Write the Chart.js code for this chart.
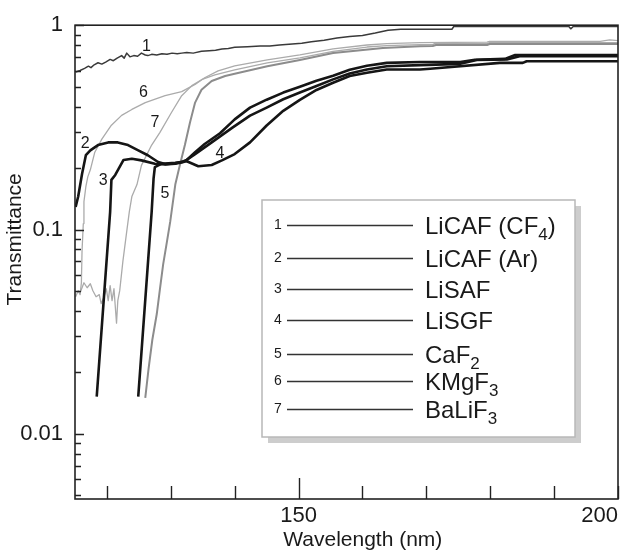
<!DOCTYPE html>
<html>
<head>
<meta charset="utf-8">
<script src="https://cdn.jsdelivr.net/npm/chart.js@4.4.1/dist/chart.umd.min.js"></script>
<style>
    html, body { margin: 0; padding: 0; background: #fff; }
    #chart { display: block; }
</style>
</head>
<body>
<canvas id="chart" width="629" height="560"></canvas>
<script>
// Series, in legend order
const seriesNumbers = ['1', '2', '3', '4', '5', '6', '7'];
const seriesNames = ['LiCAF (CF4)', 'LiCAF (Ar)', 'LiSAF', 'LiSGF', 'CaF2', 'KMgF3', 'BaLiF3'];

// 1 - LiCAF (CF4)
const licafCf4Wl = [115.1, 115.8, 116.5, 117.1, 117.5, 118.0, 118.6, 119.2, 119.8, 120.5, 121.0, 121.6, 122.3, 122.7, 123.1, 123.6, 124.2, 124.8, 125.4, 126.0, 126.4, 127.0, 127.8, 128.6, 129.4, 130.2, 131.0, 131.7, 132.5, 133.5, 134.8, 136.0, 137.0, 138.0, 139.0, 140.0, 142.0, 144.0, 145.5, 147.0, 149.0, 150.5, 152.0, 154.0, 156.0, 158.0, 160.0, 162.0, 164.0, 166.0, 174.0, 174.3, 192.3, 192.6, 193.0, 200.0];
const licafCf4T = [0.59, 0.60, 0.615, 0.63, 0.62, 0.64, 0.655, 0.645, 0.66, 0.68, 0.67, 0.69, 0.71, 0.69, 0.73, 0.70, 0.71, 0.705, 0.73, 0.715, 0.71, 0.72, 0.715, 0.725, 0.72, 0.73, 0.725, 0.73, 0.735, 0.73, 0.745, 0.75, 0.755, 0.765, 0.77, 0.78, 0.785, 0.79, 0.79, 0.80, 0.81, 0.815, 0.83, 0.845, 0.865, 0.88, 0.89, 0.915, 0.945, 0.955, 0.955, 0.985, 0.985, 0.96, 0.985, 0.985];

// 2 - LiCAF (Ar)
const licafArWl = [115.1, 115.5, 116.1, 116.7, 117.4, 118.6, 120.2, 121.7, 123.3, 124.9, 126.4, 128.0, 129.1, 130.7, 131.7, 132.5, 133.8, 135.3, 137.7, 140.0, 142.4, 145.0, 147.6, 150.2, 152.8, 155.4, 158.0, 160.7, 163.8, 169.0, 175.3, 177.6, 182.3, 183.9, 200.0];
const licafArT = [0.129, 0.145, 0.187, 0.231, 0.244, 0.259, 0.267, 0.267, 0.259, 0.244, 0.231, 0.214, 0.209, 0.211, 0.214, 0.219, 0.239, 0.262, 0.296, 0.346, 0.395, 0.432, 0.468, 0.500, 0.535, 0.566, 0.605, 0.633, 0.654, 0.661, 0.661, 0.678, 0.684, 0.715, 0.715];

// 3 - LiSAF
const lisafWl = [118.4, 120.5, 120.7, 121.3, 122.6, 123.9, 125.4, 127.5, 129.1, 130.7, 132.0, 133.8, 136.4, 139.7, 142.4, 145.0, 147.6, 150.2, 152.8, 155.4, 158.0, 160.7, 163.8, 169.0, 175.3, 177.9, 182.6, 184.6, 200.0];
const lisafT = [0.0152, 0.122, 0.175, 0.185, 0.219, 0.222, 0.218, 0.210, 0.208, 0.210, 0.214, 0.234, 0.267, 0.316, 0.361, 0.395, 0.434, 0.468, 0.504, 0.543, 0.580, 0.607, 0.630, 0.638, 0.647, 0.676, 0.680, 0.705, 0.705];

// 4 - LiSGF
const lisgfWl = [124.9, 127.0, 127.3, 127.5, 128.6, 130.7, 132.5, 134.3, 136.4, 138.0, 140.0, 142.4, 145.0, 147.6, 150.2, 152.8, 155.4, 158.0, 160.7, 163.8, 169.0, 170.6, 181.5, 185.1, 185.7, 200.0];
const lisgfT = [0.0152, 0.122, 0.178, 0.202, 0.210, 0.212, 0.216, 0.204, 0.207, 0.218, 0.234, 0.267, 0.323, 0.381, 0.431, 0.482, 0.523, 0.564, 0.585, 0.607, 0.607, 0.612, 0.654, 0.654, 0.666, 0.666];

// 5 - CaF2
const caf2Wl = [126.0, 126.5, 127.1, 127.8, 128.3, 128.8, 129.4, 129.9, 130.7, 131.4, 132.2, 133.0, 133.8, 134.8, 136.4, 138.5, 140.0, 145.1, 150.2, 155.4, 163.2, 169.0, 171.0, 171.5, 179.5, 179.9, 200.0];
const caf2T = [0.0150, 0.0206, 0.0288, 0.0386, 0.0513, 0.0675, 0.0875, 0.109, 0.166, 0.206, 0.259, 0.334, 0.418, 0.483, 0.533, 0.564, 0.578, 0.630, 0.676, 0.731, 0.773, 0.788, 0.791, 0.800, 0.800, 0.809, 0.809];

// 6 - KMgF3
const kmgf3Wl = [115.1, 115.5, 115.8, 116.0, 116.1, 116.3, 116.4, 116.7, 117.0, 117.4, 118.1, 119.2, 120.7, 122.3, 123.9, 126.0, 129.1, 131.7, 133.8, 135.3, 137.4, 140.0, 145.1, 150.2, 155.4, 160.7, 163.8, 169.0, 179.5, 179.9, 197.2, 198.7, 200.0];
const kmgf3T = [0.0469, 0.0502, 0.0480, 0.0549, 0.0783, 0.107, 0.137, 0.162, 0.181, 0.196, 0.239, 0.277, 0.324, 0.362, 0.387, 0.418, 0.452, 0.473, 0.513, 0.553, 0.598, 0.633, 0.676, 0.715, 0.765, 0.800, 0.813, 0.822, 0.827, 0.834, 0.834, 0.848, 0.840];

// 7 - BaLiF3
const balif3Wl = [115.8, 116.4, 116.9, 117.4, 117.8, 118.3, 118.8, 119.1, 119.5, 119.9, 120.2, 120.5, 120.8, 121.1, 121.5, 121.7, 122.0, 122.5, 123.1, 123.5, 123.9, 124.7, 125.4, 127.0, 128.3, 130.1, 131.7, 133.3, 134.8, 136.9, 140.0, 145.1, 150.2, 155.4, 160.7, 163.8, 169.0, 171.0, 171.3, 179.5, 179.9, 200.0];
const balif3T = [0.0491, 0.0549, 0.0519, 0.0543, 0.0502, 0.0469, 0.0480, 0.0434, 0.0464, 0.0513, 0.0449, 0.0531, 0.0449, 0.0513, 0.0348, 0.0449, 0.0502, 0.0701, 0.098, 0.122, 0.145, 0.166, 0.206, 0.259, 0.299, 0.374, 0.452, 0.506, 0.541, 0.572, 0.605, 0.654, 0.692, 0.744, 0.782, 0.795, 0.804, 0.804, 0.813, 0.813, 0.822, 0.822];

// Where the curve numbers sit (wavelength, transmittance)
const curveLabelWl = [126.2, 116.6, 119.4, 137.7, 129.1, 125.7, 127.5];
const curveLabelT = [0.79, 0.262, 0.174, 0.235, 0.150, 0.468, 0.334];

// Axis ticks
const xTickValues = [120, 130, 140, 150, 160, 170, 180, 190, 200];
const xTickLabels = [150, 200];
const yTickValues = [0.005, 0.006, 0.007, 0.008, 0.009, 0.01, 0.02, 0.03, 0.04, 0.05, 0.06, 0.07, 0.08, 0.09, 0.1, 0.2, 0.3, 0.4, 0.5, 0.6, 0.7, 0.8, 0.9, 1];
const yTickLabels = [0.01, 0.1, 1];

const FONT = '"Liberation Sans", Arial, Helvetica, sans-serif';
const INK = '#1a1a1a';

const curveStyles = [
    { color: '#3a3a3a', width: 1.5 },
    { color: '#151515', width: 2.6 },
    { color: '#151515', width: 2.6 },
    { color: '#151515', width: 2.6 },
    { color: '#8c8c8c', width: 2 },
    { color: '#ababab', width: 1.3 },
    { color: '#ababab', width: 1.3 }
];

const curveData = [
    [licafCf4Wl, licafCf4T],
    [licafArWl, licafArT],
    [lisafWl, lisafT],
    [lisgfWl, lisgfT],
    [caf2Wl, caf2T],
    [kmgf3Wl, kmgf3T],
    [balif3Wl, balif3T]
];

// frame + inward tick marks
const frameTicks = {
    id: 'frameTicks',
    afterDatasetsDraw(chart) {
        const { ctx, chartArea: a, scales: { x, y } } = chart;
        ctx.save();
        ctx.strokeStyle = '#222';
        ctx.lineWidth = 1.6;
        ctx.strokeRect(a.left, a.top, a.right - a.left, a.bottom - a.top);

        ctx.lineWidth = 1.4;
        ctx.beginPath();
        y.ticks.forEach(t => {
            const py = Math.round(y.getPixelForValue(t.value)) + 0.5;
            const len = yTickLabels.includes(t.value) ? 9 : 6;
            ctx.moveTo(a.left, py);
            ctx.lineTo(a.left + len, py);
        });
        x.ticks.forEach(t => {
            const px = Math.round(x.getPixelForValue(t.value)) + 0.5;
            const len = t.value === 150 ? 21 : 13;
            ctx.moveTo(px, a.bottom);
            ctx.lineTo(px, a.bottom - len);
        });
        ctx.stroke();
        ctx.restore();
    }
};

// axis titles, curve numbers and the boxed legend
function drawChem(ctx, text, x, y) {
    // a digit right after a letter is a subscript
    let cx = x;
    for (let i = 0; i < text.length; i++) {
        const ch = text[i];
        const sub = /\d/.test(ch) && i > 0 && /[A-Za-z]/.test(text[i - 1]);
        ctx.font = (sub ? '17px ' : '24px ') + FONT;
        ctx.fillText(ch, cx, sub ? y + 6 : y);
        cx += ctx.measureText(ch).width;
    }
}

const annotations = {
    id: 'annotations',
    afterDraw(chart) {
        const { ctx, chartArea: a, scales: { x, y } } = chart;
        ctx.save();
        ctx.fillStyle = INK;

        // axis titles
        ctx.font = '21px ' + FONT;
        ctx.textAlign = 'center';
        ctx.textBaseline = 'middle';
        ctx.fillText('Wavelength (nm)', a.left + (a.right - a.left) * 0.53, 540);
        ctx.save();
        ctx.translate(15, a.top + (a.bottom - a.top) * 0.452);
        ctx.rotate(-Math.PI / 2);
        ctx.fillText('Transmittance', 0, 0);
        ctx.restore();

        // numbers next to the curves
        ctx.font = '16px ' + FONT;
        seriesNumbers.forEach((n, i) => {
            ctx.fillText(n, x.getPixelForValue(curveLabelWl[i]), y.getPixelForValue(curveLabelT[i]));
        });

        // legend box with drop shadow
        const box = { left: 262, top: 200, width: 313, height: 237 };
        ctx.fillStyle = '#cdcdcd';
        ctx.fillRect(box.left + 6, box.top + 6, box.width, box.height);
        ctx.fillStyle = '#fff';
        ctx.fillRect(box.left, box.top, box.width, box.height);
        ctx.strokeStyle = '#b8b8b8';
        ctx.lineWidth = 1.5;
        ctx.strokeRect(box.left, box.top, box.width, box.height);

        const rowOffsets = [25, 58, 89, 120, 154, 181, 209];
        ctx.strokeStyle = '#333';
        ctx.lineWidth = 1.5;
        ctx.fillStyle = INK;
        seriesNames.forEach((name, i) => {
            const ry = box.top + rowOffsets[i];
            ctx.font = '14px ' + FONT;
            ctx.textAlign = 'center';
            ctx.textBaseline = 'middle';
            ctx.fillText(seriesNumbers[i], box.left + 16, ry);
            ctx.beginPath();
            ctx.moveTo(box.left + 25, ry + 0.5);
            ctx.lineTo(box.left + 151, ry + 0.5);
            ctx.stroke();
            ctx.textAlign = 'left';
            ctx.textBaseline = 'alphabetic';
            drawChem(ctx, name, box.left + 163, ry + 9);
        });
        ctx.restore();
    }
};

new Chart(document.getElementById('chart'), {
    type: 'line',
    data: {
        datasets: curveData.map(([wl, t], i) => ({
            label: seriesNames[i],
            data: wl.map((w, j) => ({ x: w, y: t[j] })),
            borderColor: curveStyles[i].color,
            borderWidth: curveStyles[i].width,
            borderJoinStyle: 'round',
            pointRadius: 0,
            tension: 0,
            fill: false
        }))
    },
    options: {
        responsive: false,
        animation: false,
        layout: { padding: { top: 22, right: 11, left: 0, bottom: 0 } },
        plugins: {
            legend: { display: false },
            tooltip: { enabled: false }
        },
        scales: {
            x: {
                type: 'linear',
                min: 115,
                max: 200,
                afterBuildTicks: scale => { scale.ticks = xTickValues.map(v => ({ value: v })); },
                afterFit: scale => { scale.height = 61; },
                grid: { display: false, drawTicks: false },
                border: { display: false },
                ticks: {
                    autoSkip: false,
                    maxRotation: 0,
                    align: 'inner',
                    padding: 4,
                    color: INK,
                    font: { family: FONT, size: 22 },
                    callback: v => xTickLabels.includes(v) ? String(v) : ''
                }
            },
            y: {
                type: 'logarithmic',
                min: 0.0048,
                max: 1,
                afterBuildTicks: scale => { scale.ticks = yTickValues.map(v => ({ value: v })); },
                afterFit: scale => { scale.width = 75; },
                grid: { display: false, drawTicks: false },
                border: { display: false },
                ticks: {
                    autoSkip: false,
                    padding: 12,
                    color: INK,
                    font: { family: FONT, size: 22 },
                    callback: v => yTickLabels.includes(v) ? String(v) : ''
                }
            }
        }
    },
    plugins: [frameTicks, annotations]
});
</script>
</body>
</html>
